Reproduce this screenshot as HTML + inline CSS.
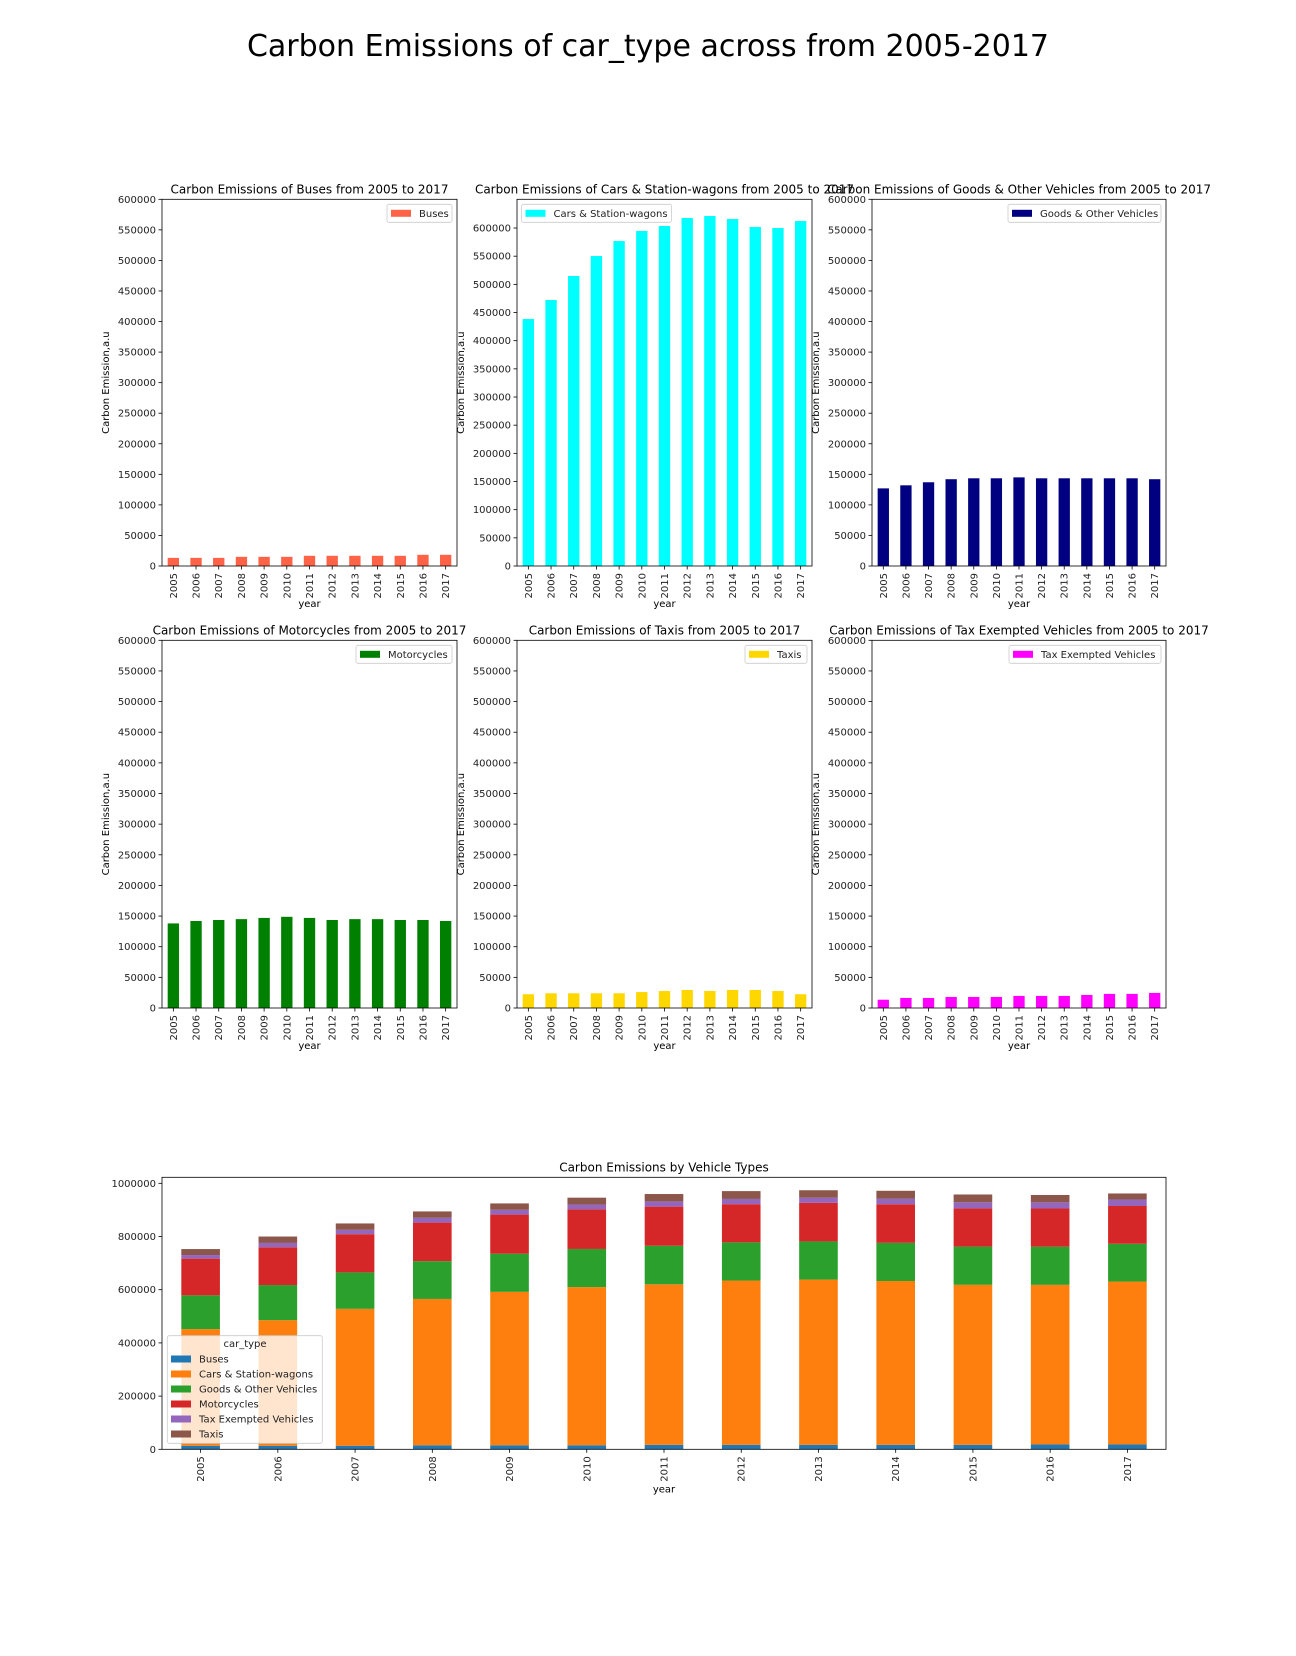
<!DOCTYPE html>
<html><head><meta charset="utf-8"><style>
html,body{margin:0;padding:0;background:#fff;}
svg{display:block;font-family:"DejaVu Sans","Liberation Sans",sans-serif;}
</style></head><body>
<svg id="fig" width="1296" height="1656" viewBox="0 0 1296 1656" xmlns="http://www.w3.org/2000/svg">
<text x="648" y="56" font-size="30" text-anchor="middle" fill="#000">Carbon Emissions of car_type across from 2005-2017</text>
</svg>
<script>
const years = ["2005","2006","2007","2008","2009","2010","2011","2012","2013","2014","2015","2016","2017"];
const buses = [13300,13300,13300,15000,15000,15000,16700,16700,16700,16700,16700,18300,18300];
const cars = [438500,472200,514800,550300,576900,594700,603600,617800,621300,616000,601800,600000,612400];
const goods = [127000,132000,137000,142000,143500,143500,145000,143500,143500,143500,143500,143500,142000];
const motorcycles = [138000,142000,143600,145000,147000,148800,147000,143600,145000,145000,143600,143600,142000];
const taxis = [22500,24000,24000,24000,24000,26000,27700,29400,27700,29400,29400,27700,22500];
const taxExempt = [13500,16400,16400,18000,18000,18000,19700,19700,19700,21300,23000,23000,24600];
const smallTicks = [0,50000,100000,150000,200000,250000,300000,350000,400000,450000,500000,550000,600000];
const stackTicks = [0,200000,400000,600000,800000,1000000];

const NS="http://www.w3.org/2000/svg";
const svg=document.getElementById('fig');
function mk(tag,attrs,parent,text){const e=document.createElementNS(NS,tag);for(const k in attrs)e.setAttribute(k,attrs[k]);if(text!==undefined)e.textContent=text;(parent||svg).appendChild(e);return e;}

function drawAxes(g,L,T,R,B,ymax,ticks,name,xlabelY){
  const yS=v=>B-(v/ymax)*(B-T);
  const slot=(R-L)/years.length;
  const xC=i=>L+slot*(i+0.5);
  ticks.forEach(t=>{
    const y=yS(t);
    const tk=mk('line',{x1:L-3.5,x2:L,y1:y,y2:y,stroke:'#000','stroke-width':0.8},g);
    
    
    const lb=mk('text',{x:L-6,y:y+3.5,'font-size':10,'text-anchor':'end',fill:'#222'},g,String(t));
    
    
  });
  years.forEach((yr,i)=>{
    const x=xC(i);
    const tk=mk('line',{x1:x,x2:x,y1:B,y2:B+3.5,stroke:'#000','stroke-width':0.8},g);
    
    
    const lb=mk('text',{x:0,y:0,'font-size':10,'text-anchor':'end',fill:'#222',transform:`translate(${x+3.5},${B+7}) rotate(-90)`},g,yr);
    
    
  });
  const xl=mk('text',{x:(L+R)/2,y:xlabelY,'font-size':10,'text-anchor':'middle',fill:'#000'},g,'year');
  
  
  return {yS,xC,slot};
}

const subplots=[
  {title:'Carbon Emissions of Buses from 2005 to 2017',label:'Buses',data:buses,color:'#ff6347',L:162,T:199.3,R:457,B:566,ymax:600000,ticks:smallTicks,legend:'right',lw:65},
  {title:'Carbon Emissions of Cars & Station-wagons from 2005 to 2017',label:'Cars & Station-wagons',data:cars,color:'#00ffff',L:517,T:199.3,R:812,B:566,ymax:651000,ticks:smallTicks,legend:'left',lw:150},
  {title:'Carbon Emissions of Goods & Other Vehicles from 2005 to 2017',label:'Goods & Other Vehicles',data:goods,color:'#000080',L:872,T:199.3,R:1166,B:566,ymax:600000,ticks:smallTicks,legend:'right',lw:153},
  {title:'Carbon Emissions of Motorcycles from 2005 to 2017',label:'Motorcycles',data:motorcycles,color:'#008000',L:162,T:640.3,R:457,B:1008,ymax:600000,ticks:smallTicks,legend:'right',lw:96},
  {title:'Carbon Emissions of Taxis from 2005 to 2017',label:'Taxis',data:taxis,color:'#ffd700',L:517,T:640.3,R:812,B:1008,ymax:600000,ticks:smallTicks,legend:'right',lw:62},
  {title:'Carbon Emissions of Tax Exempted Vehicles from 2005 to 2017',label:'Tax Exempted Vehicles',data:taxExempt,color:'#ff00ff',L:872,T:640.3,R:1166,B:1008,ymax:600000,ticks:smallTicks,legend:'right',lw:152}
];

subplots.forEach((p,k)=>{
  const g=mk('g',{});
  
  
  const ax=drawAxes(g,p.L,p.T,p.R,p.B,p.ymax,p.ticks.filter(t=>t<=p.ymax),'',p.B+41);
  p.data.forEach((v,i)=>{
    const y=ax.yS(v);
    const r=mk('rect',{x:ax.xC(i)-ax.slot/4,y:y,width:ax.slot/2,height:p.B-y,fill:p.color},g);
    
    
  });
  const fr=mk('rect',{x:p.L,y:p.T,width:p.R-p.L,height:p.B-p.T,fill:'none',stroke:'#000','stroke-width':0.8},g);
  
  
  const t=mk('text',{x:(p.L+p.R)/2,y:p.T-6,'font-size':12,'text-anchor':'middle',fill:'#000'},g,p.title);
  
  
  const yl=mk('text',{x:0,y:0,'font-size':10,'text-anchor':'middle',fill:'#000',transform:`translate(${p.L-53},${(p.T+p.B)/2}) rotate(-90)`},g,'Carbon Emission,a.u');
  
  
  const lx=p.legend==='right'?p.R-5-p.lw:p.L+4.5;
  const lg=mk('g',{},g);
  
  
  mk('rect',{x:lx,y:p.T+5,width:p.lw,height:18,rx:2,fill:'#fff','fill-opacity':0.8,stroke:'#ccc','stroke-width':0.8},lg);
  mk('rect',{x:lx+4,y:p.T+10.5,width:20,height:7,fill:p.color},lg);
  mk('text',{x:lx+32,y:p.T+17.8,'font-size':10,fill:'#222'},lg,p.label);
});

// stacked chart
const stackSeries=[buses,cars,goods,motorcycles,taxExempt,taxis];
const stackNames=['Buses','Cars & Station-wagons','Goods & Other Vehicles','Motorcycles','Tax Exempted Vehicles','Taxis'];
const stackColors=['#1f77b4','#ff7f0e','#2ca02c','#d62728','#9467bd','#8c564b'];
(function(){
  const L=162,T=1177.3,R=1166,B=1449.3,ymax=1022600;
  const g=mk('g',{});
  
  
  const ax=drawAxes(g,L,T,R,B,ymax,stackTicks,'',B+43);
  years.forEach((yr,i)=>{
    let base=0;
    stackSeries.forEach((s,j)=>{
      const y0=ax.yS(base),y1=ax.yS(base+s[i]);
      const r=mk('rect',{x:ax.xC(i)-ax.slot/4,y:y1,width:ax.slot/2,height:y0-y1,fill:stackColors[j]},g);
      
      
      base+=s[i];
    });
  });
  const fr=mk('rect',{x:L,y:T,width:R-L,height:B-T,fill:'none',stroke:'#000','stroke-width':0.8},g);
  
  
  const t=mk('text',{x:(L+R)/2,y:T-6,'font-size':12,'text-anchor':'middle',fill:'#000'},g,'Carbon Emissions by Vehicle Types');
  
  
  const lg=mk('g',{},g);
  
  
  mk('rect',{x:167.3,y:1335.7,width:155,height:107.6,rx:2,fill:'#fff','fill-opacity':0.8,stroke:'#ccc','stroke-width':0.8},lg);
  mk('text',{x:245,y:1347,'font-size':10,'text-anchor':'middle',fill:'#222'},lg,'car_type');
  stackNames.forEach((n,j)=>{
    const cy=1359+15*j;
    const e=mk('g',{},lg);
    
    
    mk('rect',{x:171,y:cy-3.5,width:20,height:7,fill:stackColors[j]},e);
    mk('text',{x:199,y:cy+3.5,'font-size':10,fill:'#222'},e,n);
  });
})();
</script>
</body></html>
